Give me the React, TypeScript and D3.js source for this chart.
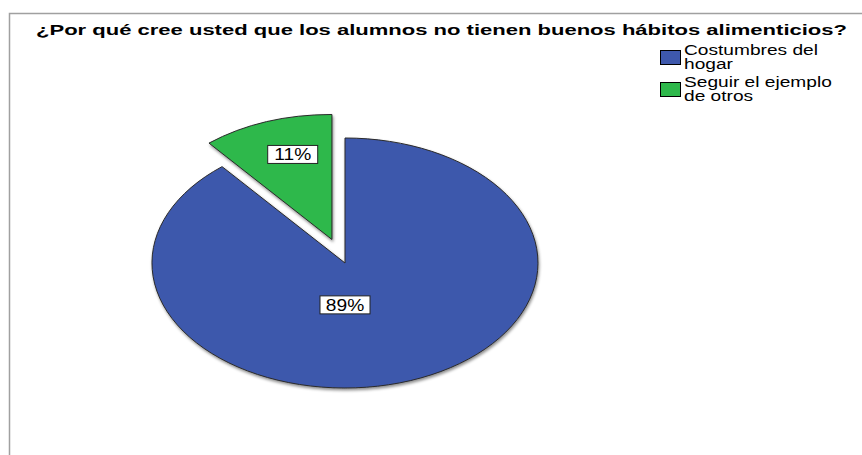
import React, { FC, useMemo } from 'react'
import * as d3 from 'd3'

const title = '¿Por qué cree usted que los alumnos no tienen buenos hábitos alimenticios?'
const categories = ['Costumbres del hogar', 'Seguir el ejemplo de otros']
const legendLines = [['Costumbres del', 'hogar'], ['Seguir el ejemplo', 'de otros']]
const percents = [89, 11]
const exploded = [false, true]
const colors = ['#3e58ac', '#2eb84b']

const W = 862
const H = 455
const FONT = 'Liberation Sans, Arial, sans-serif'

const App: FC = () => {
	const cx = 345
	const cy = 263
	const rx = 193
	const ry = 125

	const arcs = useMemo(() => {
		return d3
			.pie<number>()
			.sort(null)
			.value(d => d)(percents)
	}, [])

	const arc = d3.arc<d3.PieArcDatum<number>>().innerRadius(0).outerRadius(1)

	return (
		<svg width={W} height={H} style={{ position: 'absolute', left: 0, top: 0, background: '#fff' }}>
			<defs>
				<filter id="sombra" x="-10%" y="-10%" width="120%" height="125%">
					<feDropShadow dx={1} dy={2} stdDeviation={1.4} floodColor="#000" floodOpacity={0.45} />
				</filter>
			</defs>
			{/* marco */}
			<path d={`M9.5,${H} V13.5 H${W}`} fill="none" stroke="#a0a0a0" strokeWidth={1.5} />
			<text
				x={36}
				y={35}
				textLength={811}
				lengthAdjust="spacingAndGlyphs"
				fontFamily={FONT}
				fontWeight="bold"
				fontSize={15}
				fill="#000"
			>
				{title}
			</text>

			{/* leyenda */}
			{categories.map((c, i) => (
				<g key={c} transform={`translate(660, ${50 + i * 32})`}>
					<rect x={0.5} y={0.5} width={20} height={14} fill={colors[i]} stroke="#000" strokeWidth={1} />
					{legendLines[i].map((l, j) => (
						<text
							key={j}
							transform={`translate(24, ${5 + j * 14}) scale(1.32, 1)`}
							fontFamily={FONT}
							fontSize={14.5}
							fill="#000"
						>
							{l}
						</text>
					))}
				</g>
			))}

			{/* pastel */}
			<g filter="url(#sombra)">
				<g transform={`translate(${cx}, ${cy}) scale(${rx}, ${ry})`}>
					{arcs.map((a, i) => {
						const mid = (a.startAngle + a.endAngle) / 2
						const off = exploded[i] ? 0.2 : 0
						return (
							<path
								key={i}
								d={arc(a) || ''}
								transform={`translate(${Math.sin(mid) * off}, ${-Math.cos(mid) * off})`}
								fill={colors[i]}
								stroke="#2a2a2a"
								strokeWidth={1}
								vectorEffect="non-scaling-stroke"
							/>
						)
					})}
				</g>
			</g>

			{/* etiquetas */}
			{arcs.map((a, i) => {
				const mid = (a.startAngle + a.endAngle) / 2
				const off = exploded[i] ? 0.2 : 0
				const big = a.endAngle - a.startAngle > Math.PI
				const ang = big ? Math.PI : a.startAngle + 0.58 * (a.endAngle - a.startAngle)
				const r = big ? 0.335 : 0.71
				const x = cx + (Math.sin(ang) * r + Math.sin(mid) * off) * rx
				const y = cy - (Math.cos(ang) * r + Math.cos(mid) * off) * ry
				const label = `${percents[i]}%`
				return (
					<g key={i} transform={`translate(${x}, ${y})`}>
						<rect x={-25} y={-9} width={50} height={18} fill="#fff" stroke="#222" strokeWidth={1} />
						<text
							transform="translate(0, 6) scale(1.2, 1)"
							textAnchor="middle"
							fontFamily={FONT}
							fontSize={16}
							fill="#000"
						>
							{label}
						</text>
					</g>
				)
			})}
		</svg>
	)
}

export default App
